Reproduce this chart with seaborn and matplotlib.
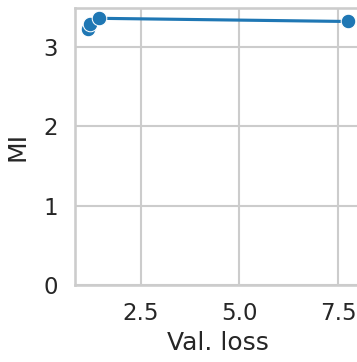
import matplotlib
matplotlib.use("Agg")
import matplotlib.pyplot as plt
import seaborn as sns
import pandas as pd

val_loss = [1.17, 1.22, 1.45, 7.75]
mi = [3.23, 3.29, 3.36, 3.32]

sns.set_theme(style="whitegrid", context="talk")

df = pd.DataFrame({"Val. loss": val_loss, "MI": mi})

fig = plt.figure(figsize=(3.57, 3.62), dpi=100)
ax = fig.add_axes([75 / 357, 77 / 362, (361 - 75) / 357, (354 - 77) / 362])
sns.lineplot(data=df, x="Val. loss", y="MI", marker="o", markersize=10.5,
             color="#1f77b4", ax=ax)
ax.set_xlim(0.835, 8.08)
ax.set_ylim(0, 3.49)
ax.set_xticks([2.5, 5.0, 7.5])
ax.set_yticks([0, 1, 2, 3])
ax.set_ylabel("MI", labelpad=9.5)
fig.savefig("out.png", dpi=100)
